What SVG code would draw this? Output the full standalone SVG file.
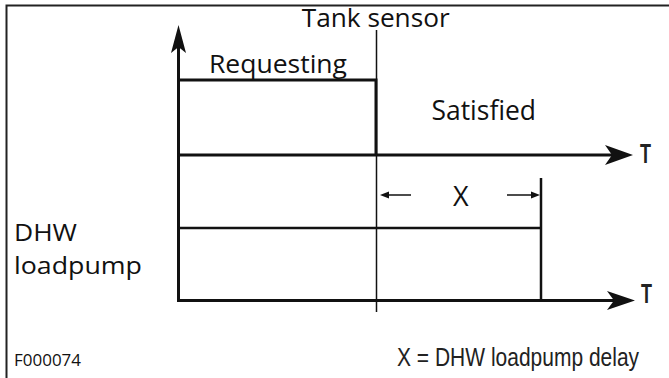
<svg xmlns="http://www.w3.org/2000/svg" width="669" height="378" viewBox="0 0 669 378">
<style>
.lbl{font-family:"Open Sans","Noto Sans",sans-serif;fill:#111}
.ax{stroke:#111;stroke-width:3;fill:none}
.thin{stroke:#111;stroke-width:1.5;fill:none}
.mid{stroke:#111;stroke-width:2.5;fill:none}
.head{fill:#111}
.t{font-family:"Liberation Sans",Arial,sans-serif;fill:#222}
</style>
<rect width="669" height="378" fill="#fff"/>
<g id="frame">
<path d="M6.5 378 V5.5 H669" stroke="#222" stroke-width="2" fill="none"/>
</g>
<g id="connectors">
<line class="ax" x1="178.5" y1="300.5" x2="178.5" y2="45"/>
<path class="head" d="M178.5 25 L186 53 L178.5 47 L171 53 Z"/>
<line class="ax" x1="177" y1="155" x2="614" y2="155"/>
<path class="head" d="M633 155 L605 145 L612 155 L605 165 Z"/>
<line class="ax" x1="177" y1="300.5" x2="616" y2="300.5"/>
<path class="head" d="M635 300.5 L607 291 L614 300.5 L607 310 Z"/>
<line class="thin" x1="376.5" y1="30" x2="376.5" y2="312"/>
<path class="ax" d="M178.5 80 H376 V155"/>
<path class="mid" d="M178.5 228 H541"/>
<line class="mid" x1="541" y1="178" x2="541" y2="300.5"/>
<line class="thin" stroke-width="1.2" x1="387" y1="195" x2="411" y2="195"/>
<path class="head" d="M380 195 L389 191.5 L389 198.5 Z"/>
<line class="thin" stroke-width="1.2" x1="507" y1="195" x2="533" y2="195"/>
<path class="head" d="M540 195 L531 191.5 L531 198.5 Z"/>
</g>
<g id="tank-sensor"><text class="lbl" x="301.7" y="26.7" font-size="25" textLength="148" lengthAdjust="spacingAndGlyphs">Tank sensor</text></g>
<g id="requesting"><text class="lbl" x="209" y="72.7" font-size="26" textLength="138" lengthAdjust="spacingAndGlyphs">Requesting</text></g>
<g id="satisfied"><text class="lbl" x="431.5" y="120" font-size="27" textLength="104.5" lengthAdjust="spacingAndGlyphs">Satisfied</text></g>
<g id="x-label"><text class="lbl" x="460.7" y="205.5" font-size="27" text-anchor="middle">X</text></g>
<g id="dhw-label">
<text class="lbl" x="14" y="240.7" font-size="24" textLength="63" lengthAdjust="spacingAndGlyphs">DHW</text>
<text class="lbl" x="14" y="274" font-size="24" textLength="128" lengthAdjust="spacingAndGlyphs">loadpump</text>
</g>
<g id="t-upper"><text class="t" x="640" y="163" font-size="28" font-weight="bold" textLength="11" lengthAdjust="spacingAndGlyphs">T</text></g>
<g id="t-lower"><text class="t" x="641" y="303" font-size="28" font-weight="bold" textLength="11" lengthAdjust="spacingAndGlyphs">T</text></g>
<g id="legend"><text class="t" transform="translate(397 365.7) scale(0.84 1)" x="0" y="0" font-size="25" fill="#111">X = DHW loadpump delay</text></g>
<g id="figure-id"><text class="lbl" x="14" y="366" font-size="16.5" textLength="67" lengthAdjust="spacingAndGlyphs">F000074</text></g>
</svg>
